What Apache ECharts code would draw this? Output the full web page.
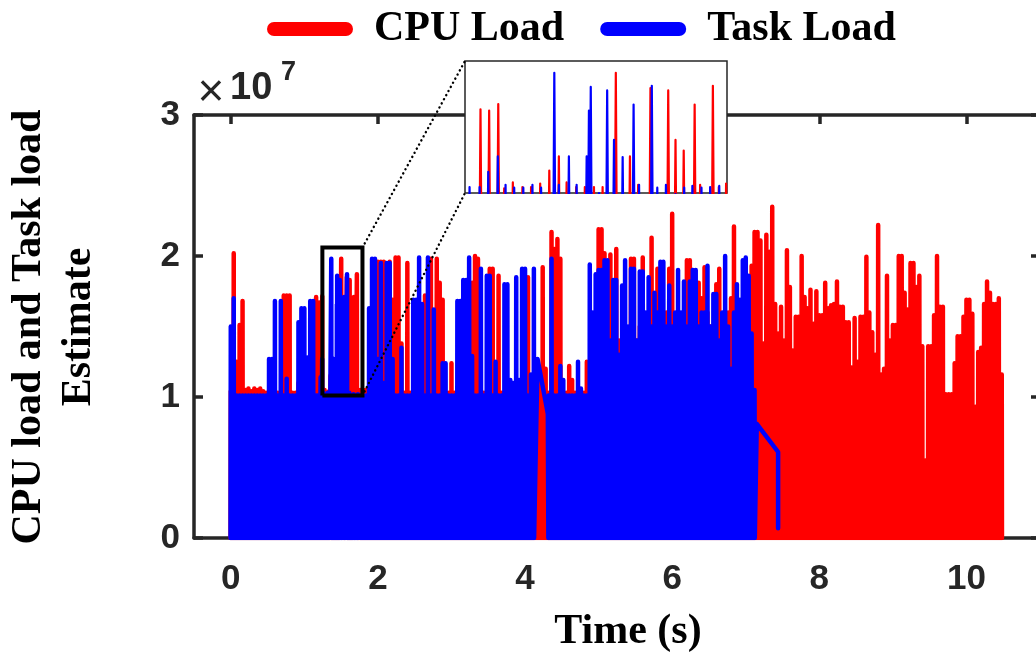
<!DOCTYPE html>
<html>
<head>
<meta charset="utf-8">
<script src="https://cdn.jsdelivr.net/npm/echarts@6.0.0/dist/echarts.min.js"></script>
<style>
  html, body { margin: 0; padding: 0; background: #fff; }
  #chart { width: 1036px; height: 654px; }
</style>
</head>
<body>
<div id="chart"></div>
<script>
// ---- data (loads in units of 1e6) ----------------------------------------
// Envelope of each load trace, one value per 0.04 s sample starting at t = 0.
// null = no sample here (gap in the trace, or covered by the detailed window record).
const sampleStep = 0.04;

const taskLoad = [
  15.0, 17.0, 10.1, 10.1, 10.1, 10.1, 10.1, 10.1, 10.1, 10.1,
  10.1, 10.1, 10.1, 12.7, 12.7, 16.8, 10.1, 16.8, 10.1, 11.3,
  10.1, 10.1, 10.1, 15.3, 16.3, 16.3, 12.8, 16.8, 16.8, 10.1,
  null, null, null, null, null, null, null, null, null, null,
  null, null, null, null, 10.1, 10.1, 10.1, 16.3, 19.8, 19.8,
  12.7, 19.5, 11.0, 19.5, 19.5, 12.7, 10.1, 10.1, 13.5, 10.1,
  10.1, 10.1, 16.9, 16.9, 19.9, 16.6, 10.1, 19.9, 10.1, 16.2,
  10.1, 10.1, 12.4, 12.4, 10.1, 10.1, 10.1, 16.8, 16.8, 18.3,
  18.3, 19.9, 12.9, 10.1, 10.1, 19.1, 10.1, 18.6, 18.6, 10.1,
  12.5, 10.1, 10.1, 18.0, 18.0, 11.2, 11.0, 18.5, 11.2, 19.1,
  19.1, 10.1, 11.6, 19.1, null, null, null, null, 10.1, 19.8,
  10.1, 10.1, 12.2, 11.2, 10.1, 10.1, 10.1, 10.1, 12.5, 10.6,
  10.1, 10.1, 19.4, 16.0, 18.7, 19.0, 19.0, 19.7, 19.7, 14.0,
  18.3, 18.3, 13.0, 17.9, 19.7, 15.0, 19.1, 19.1, 14.0, 18.9,
  18.9, 16.0, 18.5, 15.0, 17.4, 16.0, 19.6, 19.6, 15.0, 17.9,
  15.0, 16.0, 19.0, 16.0, 18.2, 15.0, 18.2, 19.0, 19.0, 15.0,
  16.0, 16.0, 19.3, 15.0, 17.3, 17.3, 14.0, 16.0, 20.0, 15.0,
  12.0, 16.0, 18.0, 16.9, 19.7, 19.9, 18.6, 14.5, 10.5
];

const cpuLoad = [
  10.4, 20.2, 12.5, 15.1, 16.8, 10.5, 10.6, 10.4, 10.6, 10.5,
  10.6, 10.4, 10.3, 10.3, 10.3, 10.3, 10.3, 10.3, 17.2, 17.2,
  17.2, 10.3, 10.3, 11.0, 10.3, 10.3, 10.3, 10.3, 13.2, 17.1,
  null, null, null, null, null, null, null, null, null, null,
  null, null, null, null, 10.5, 10.5, 10.5, 10.3, 10.3, 10.3,
  19.6, 19.6, 19.6, 12.0, 19.6, 16.9, 19.9, 19.9, 13.8, 10.3,
  19.5, 10.3, 10.3, 10.3, 10.3, 10.3, 17.2, 10.3, 19.8, 10.3,
  19.8, 18.1, 16.9, 10.3, 10.3, 12.4, 10.3, 10.3, 10.3, 10.3,
  10.3, 10.3, 18.1, 20.0, 19.8, 10.3, 10.3, 10.3, 19.1, 19.1,
  10.5, 18.6, 10.3, 10.3, 10.3, 10.3, 10.3, 10.3, 10.3, 10.3,
  10.3, 18.5, 10.3, 10.3, 12.0, 11.0, 19.2, 12.0, 10.3, 21.7,
  20.5, 21.2, 19.8, 10.3, 10.3, 12.2, 11.2, 10.3, 10.3, 10.3,
  10.3, 12.5, 10.3, 10.3, 10.3, 21.9, 21.9, 20.2, 14.0, 20.1,
  16.0, 20.5, 14.0, 10.3, 13.0, 12.0, 19.8, 19.8, 14.0, 15.0,
  19.9, 14.0, 15.0, 21.3, 17.0, 19.1, 15.0, 14.0, 16.0, 19.1,
  23.0, 15.0, 13.0, 14.0, 16.0, 19.7, 19.7, 19.0, 16.0, 18.1,
  17.0, 19.2, 16.0, 15.0, 14.0, 18.0, 19.1, 15.0, 14.0, 16.0,
  17.0, 22.1, 17.0, 15.0, 14.0, 16.0, 16.0, 19.3, 21.7, 21.7,
  21.1, 13.8, 21.5, 20.3, 23.5, 16.6, 14.5, 16.4, 14.0, 20.4,
  17.8, 13.3, 15.7, 15.7, 20.0, 17.1, 16.3, 17.6, 15.2, 17.5,
  15.8, 15.8, 18.1, 16.3, 16.5, 16.6, 18.2, 16.4, 16.4, 15.3,
  15.3, 12.1, 15.6, 12.5, 15.7, 15.7, 19.95, 16.0, 14.6, 13.0,
  22.2, 11.6, 12.0, 18.6, 14.0, 15.1, 15.1, 20.0, 20.0, 17.4,
  16.2, 19.5, 19.5, 17.8, 18.6, 13.6, 5.5, 13.6, 13.6, 15.8,
  20.0, 16.4, 16.4, 10.2, 10.2, 10.2, 12.4, 14.3, 14.3, 15.7,
  16.9, 16.9, 15.9, 9.3, 13.2, 13.5, 16.6, 18.2, 17.4, 16.6,
  16.6, 17.0, 11.6
];

// Detailed record of the 1.17 s - 1.745 s window (time in s, load in 1e6)
const windowCpuTime = [1.204, 1.223, 1.243, 1.256, 1.275, 1.296, 1.315, 1.335, 1.355, 1.376,
  1.393, 1.414, 1.433, 1.453, 1.472, 1.501, 1.532, 1.550, 1.577, 1.616,
  1.632, 1.650, 1.674, 1.686, 1.714, 1.727, 1.743];
const windowCpu = [16.7, 16.6, 17.15, 10.0, 10.5, 10.1, 10.1, 10.4, 11.5, 12.7,
  10.5, 10.1, 10.1, 10.1, 10.1, 19.8, 12.7, 10.3, 18.5, 18.3,
  14.1, 13.2, 17.1, 10.3, 18.7, 10.1, 10.4];
const windowTaskTime = [1.180, 1.202, 1.221, 1.242, 1.259, 1.278, 1.298, 1.318, 1.337, 1.366,
  1.376, 1.398, 1.415, 1.437, 1.442, 1.446, 1.464, 1.482, 1.497, 1.516,
  1.540, 1.552, 1.580, 1.592, 1.611, 1.632, 1.651, 1.669, 1.689, 1.708, 1.728];
const windowTask = [10.1, 10.1, 11.4, 12.7, 10.3, 10.05, 10.05, 10.3, 10.05, 19.8,
  10.3, 12.7, 10.3, 12.7, 16.6, 18.6, 9.6, 18.3, 14.1, 12.65,
  17.1, 10.3, 18.7, 10.05, 10.3, 9.5, 10.05, 10.2, 10.05, 10.1, 10.2];

// Task trace segments that run straight between distant samples: [t, load]
const taskBridge = [[4.17, 12.7], [4.31, 8.8]];
const taskTail = [[7.15, 8.1], [7.44, 6.1], [7.44, 0.7]];

// Tick values
const timeTicks = [0, 2, 4, 6, 8, 10];
const loadTicks = [0, 1e7, 2e7, 3e7];
const windowTimeTicks = [1.2, 1.3, 1.4, 1.5, 1.6, 1.7];
const windowLoadTicks = [1.0e7, 1.5e7, 2.0e7];

// Highlighted region in the main axes and the range shown in the magnified view
const zoomBox = { t0: 1.245, t1: 1.79, v0: 10.1e6, v1: 20.6e6 };
const windowRange = { t0: 1.17, t1: 1.745, v0: 9.6e6, v1: 20.8e6 };

// ---- build the traces ----------------------------------------------------
const UNIT = 1e6;
const HALF = 0.003;   // each sample is a narrow excursion from 0 up to its load

function trace(coarse, fineT, fineV, links) {
  const samples = [];
  coarse.forEach((v, i) => {
    if (v !== null) samples.push([+(i * sampleStep).toFixed(3), v]);
  });
  fineT.forEach((t, i) => samples.push([t, fineV[i]]));
  const pts = [];
  samples.forEach(([t, v]) => {
    pts.push([t - HALF, 0], [t, v * UNIT], [t + HALF, 0]);
  });
  links.forEach(([t, v]) => pts.push([t, v * UNIT]));
  pts.sort((a, b) => a[0] - b[0]);
  return pts;
}

const cpuPts = trace(cpuLoad, windowCpuTime, windowCpu, []);
const taskPts = trace(taskLoad, windowTaskTime, windowTask, taskBridge.concat(taskTail));

const RED = '#ff0000';
const BLUE = '#0000ff';
const INK = '#262626';
const SANS = 'Liberation Sans';
const SERIF = 'Liberation Serif';

function frameAxis(gridIndex, position, min, max, ticks, opts) {
  return Object.assign({
    gridIndex, type: 'value', position, min, max,
    axisLine: { show: true, onZero: false, lineStyle: { color: INK, width: opts.lw } },
    axisTick: { show: true, inside: true, length: opts.tick, customValues: ticks,
                lineStyle: { color: INK, width: opts.lw } },
    axisLabel: { show: false },
    splitLine: { show: false }
  }, opts.extra || {});
}

const mainLabel = {
  show: true, fontFamily: SANS, fontWeight: 'bold', fontSize: 35, color: INK
};

const chart = echarts.init(document.getElementById('chart'), null, { renderer: 'canvas' });

const option = {
  animation: false,
  backgroundColor: '#fff',
  grid: [
    { left: 194, top: 115, width: 846, height: 423, outerBoundsMode: 'none', containLabel: false },
    { left: 465, top: 61, width: 262, height: 132, outerBoundsMode: 'none', containLabel: false,
      show: true, backgroundColor: '#fff', borderColor: INK, borderWidth: 1.5, zlevel: 1 }
  ],
  legend: {
    data: ['CPU Load', 'Task Load'],
    left: 262, top: 2,
    icon: 'path://M7,0H79A7,7,0,0,1,79,14H7A7,7,0,0,1,7,0Z',
    itemWidth: 86, itemHeight: 14, itemGap: 36,
    itemStyle: { borderWidth: 0 },
    selectedMode: false,
    textStyle: { fontFamily: SERIF, fontWeight: 'bold', fontSize: 42, color: '#000',
                 padding: [0, 0, 0, 16], lineHeight: 44 }
  },
  xAxis: [
    frameAxis(0, 'bottom', -0.5, 11, timeTicks, { lw: 3.5, tick: 9, extra: {
      axisLabel: Object.assign({ customValues: timeTicks, margin: 24 }, mainLabel) } }),
    frameAxis(0, 'top', -0.5, 11, timeTicks, { lw: 3.5, tick: 9 }),
    frameAxis(1, 'bottom', windowRange.t0, windowRange.t1, windowTimeTicks,
      { lw: 0, tick: 4, extra: { zlevel: 1 } }),
    frameAxis(1, 'top', windowRange.t0, windowRange.t1, windowTimeTicks,
      { lw: 0, tick: 4, extra: { zlevel: 1 } })
  ],
  yAxis: [
    frameAxis(0, 'left', 0, 3e7, loadTicks, { lw: 3.5, tick: 9, extra: {
      interval: 1e7,
      axisLabel: Object.assign({ margin: 14, formatter: v => String(v / 1e7) }, mainLabel) } }),
    frameAxis(0, 'right', 0, 3e7, loadTicks, { lw: 3.5, tick: 9, extra: { interval: 1e7 } }),
    frameAxis(1, 'left', windowRange.v0, windowRange.v1, windowLoadTicks,
      { lw: 0, tick: 4, extra: { zlevel: 1 } }),
    frameAxis(1, 'right', windowRange.v0, windowRange.v1, windowLoadTicks,
      { lw: 0, tick: 4, extra: { zlevel: 1 } })
  ],
  series: [
    {
      name: 'CPU Load', type: 'line', xAxisIndex: 0, yAxisIndex: 0, data: cpuPts,
      symbol: 'none', showSymbol: false, silent: true, clip: true,
      itemStyle: { color: RED },
      lineStyle: { color: RED, width: 4.5, join: 'round', cap: 'round' },
      emphasis: { disabled: true }
    },
    {
      name: 'Task Load', type: 'line', xAxisIndex: 0, yAxisIndex: 0, data: taskPts,
      symbol: 'none', showSymbol: false, silent: true, clip: true,
      itemStyle: { color: BLUE },
      lineStyle: { color: BLUE, width: 4.5, join: 'round', cap: 'round' },
      emphasis: { disabled: true }
    },
    {
      name: 'zoom box', type: 'line', xAxisIndex: 0, yAxisIndex: 0, z: 4,
      data: [[zoomBox.t0, zoomBox.v0], [zoomBox.t1, zoomBox.v0], [zoomBox.t1, zoomBox.v1],
             [zoomBox.t0, zoomBox.v1], [zoomBox.t0, zoomBox.v0]],
      symbol: 'none', showSymbol: false, silent: true,
      lineStyle: { color: '#000', width: 4, join: 'miter' },
      emphasis: { disabled: true }
    },
    {
      name: 'CPU Load', type: 'line', xAxisIndex: 2, yAxisIndex: 2, data: cpuPts, zlevel: 1,
      symbol: 'none', showSymbol: false, silent: true, clip: true,
      itemStyle: { color: RED },
      lineStyle: { color: RED, width: 2.2, join: 'round', cap: 'round' },
      emphasis: { disabled: true }
    },
    {
      name: 'Task Load', type: 'line', xAxisIndex: 2, yAxisIndex: 2, data: taskPts, zlevel: 1,
      symbol: 'none', showSymbol: false, silent: true, clip: true,
      itemStyle: { color: BLUE },
      lineStyle: { color: BLUE, width: 2.2, join: 'round', cap: 'round' },
      emphasis: { disabled: true }
    }
  ]
};

chart.setOption(option);

// Connector lines from the highlighted box to the magnified view, plus axis titles
const boxTopRight = chart.convertToPixel({ gridIndex: 0 }, [zoomBox.t1, zoomBox.v1]);
const boxBottomRight = chart.convertToPixel({ gridIndex: 0 }, [zoomBox.t1, zoomBox.v0]);
const viewTopLeft = chart.convertToPixel({ gridIndex: 1 }, [windowRange.t0, windowRange.v1]);
const viewBottomLeft = chart.convertToPixel({ gridIndex: 1 }, [windowRange.t0, windowRange.v0]);

const dotted = { stroke: '#000', lineWidth: 2.4, lineDash: [0.1, 4.6], lineCap: 'round' };

chart.setOption({
  graphic: [
    { type: 'line', zlevel: 1, silent: true,
      shape: { x1: boxTopRight[0], y1: boxTopRight[1], x2: viewTopLeft[0], y2: viewTopLeft[1] },
      style: dotted },
    { type: 'line', zlevel: 1, silent: true,
      shape: { x1: boxBottomRight[0], y1: boxBottomRight[1], x2: viewBottomLeft[0], y2: viewBottomLeft[1] },
      style: dotted },
    { type: 'text', x: 54, y: 327, rotation: Math.PI / 2, silent: true,
      style: { text: 'CPU load and Task load\nEstimate', fontFamily: SERIF, fontWeight: 'bold',
               fontSize: 42, lineHeight: 50, fill: '#000', align: 'center', verticalAlign: 'middle' } },
    { type: 'text', x: 628, y: 632, silent: true,
      style: { text: 'Time (s)', fontFamily: SERIF, fontWeight: 'bold', fontSize: 42,
               fill: '#000', align: 'center', verticalAlign: 'middle' } },
    { type: 'text', x: 211, y: 93, silent: true,
      style: { text: '×', fontFamily: SANS, fontWeight: 'normal', fontSize: 46,
               fill: INK, align: 'center', verticalAlign: 'middle' } },
    { type: 'text', x: 230, y: 89, silent: true,
      style: { text: '10', fontFamily: SANS, fontWeight: 'bold', fontSize: 38,
               fill: INK, align: 'left', verticalAlign: 'middle' } },
    { type: 'text', x: 281, y: 72.5, silent: true,
      style: { text: '7', fontFamily: SANS, fontWeight: 'bold', fontSize: 27,
               fill: INK, align: 'left', verticalAlign: 'middle' } }
  ]
});
</script>
</body>
</html>
